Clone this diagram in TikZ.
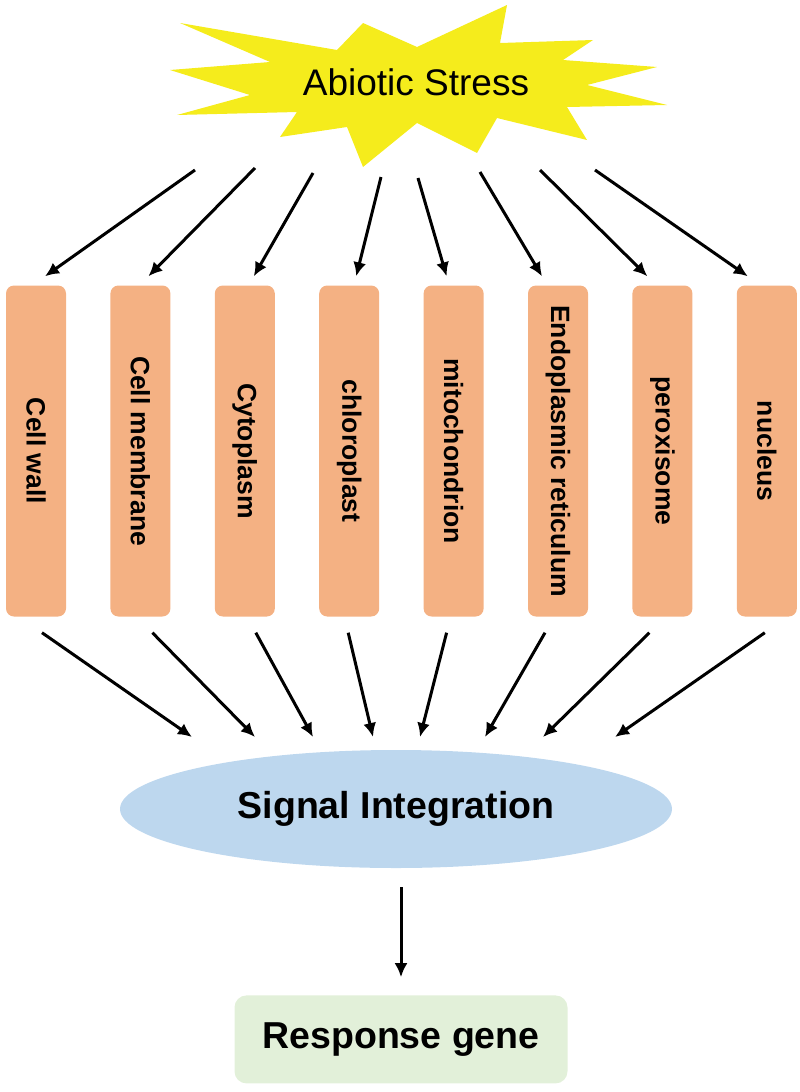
\documentclass[tikz,border=0pt]{standalone}
\usepackage{fontspec}
\setmainfont{Liberation Sans}
\usetikzlibrary{arrows.meta,shapes.geometric,positioning}
\definecolor{burstyellow}{RGB}{245,236,28}
\definecolor{organorange}{RGB}{244,177,131}
\definecolor{sigblue}{RGB}{189,215,238}
\definecolor{genegreen}{RGB}{226,240,217}
\tikzstyle{organelle} = [rectangle, fill=organorange, rounded corners=8pt,
    minimum width=60pt, minimum height=331pt, inner sep=0pt,
    font=\fontsize{26.5}{30}\selectfont\bfseries]
\tikzstyle{hub} = [ellipse, fill=sigblue, minimum width=552pt,
    minimum height=118pt, font=\fontsize{37.5}{42}\selectfont\bfseries]
\tikzstyle{result} = [rectangle, fill=genegreen, rounded corners=12pt,
    minimum width=333pt, minimum height=88pt, font=\fontsize{37.5}{42}\selectfont\bfseries]
\tikzstyle{line} = [draw, line width=3pt, -{Latex[length=14pt,width=13pt]}]

\begin{document}
\begin{tikzpicture}[x=1pt, y=-1pt, node distance=44pt, auto]
        \useasboundingbox (0,0) rectangle (800,1092);
        % Abiotic stress burst
        \fill [burstyellow] (180,23) -- (337,50) -- (363,23) -- (417,47) -- (507,5)
            -- (500,43) -- (593,40) -- (563,60) -- (657,67) -- (587,85) -- (667,105)
            -- (567,107) -- (587,140) -- (497,118) -- (477,153) -- (417,123)
            -- (363,167) -- (347,127) -- (280,137) -- (297,112) -- (177,115)
            -- (250,95) -- (170,70) -- (270,62) -- cycle;
        \node [font=\fontsize{37}{42}\selectfont] (stress) at (416,82) {Abiotic Stress};
        % Place organelles
        \node [organelle] (wall) at (36,451) {\rotatebox{-90}{Cell wall}};
        \node [organelle, right= of wall] (membrane) {\rotatebox{-90}{Cell membrane}};
        \node [organelle, right= of membrane] (cyto) {\rotatebox{-90}{Cytoplasm}};
        \node [organelle, right= of cyto] (chloro) {\rotatebox{-90}{chloroplast}};
        \node [organelle, right= of chloro] (mito) {\rotatebox{-90}{mitochondrion}};
        \node [organelle, right= of mito] (er) {\rotatebox{-90}{Endoplasmic reticulum}};
        \node [organelle, right= of er] (perox) {\rotatebox{-90}{peroxisome}};
        \node [organelle, right= of perox] (nucleus) {\rotatebox{-90}{nucleus}};
        % Signal integration and response
        \node [hub] (signal) at (396,809) {Signal Integration};
        \node [result, below=127pt of signal, xshift=5pt] (gene) {Response gene};
        % Arrow ends near the burst and the ellipse
        \coordinate (s1) at (195,170);
        \coordinate (s2) at (255,168);
        \coordinate (s3) at (313,173);
        \coordinate (s4) at (381,177);
        \coordinate (s5) at (418,178);
        \coordinate (s6) at (480,172);
        \coordinate (s7) at (540,170);
        \coordinate (s8) at (595,170);
        \coordinate (t1) at (192,737);
        \coordinate (t2) at (255,737);
        \coordinate (t3) at (313,737);
        \coordinate (t4) at (373,737);
        \coordinate (t5) at (420,737);
        \coordinate (t6) at (485,737);
        \coordinate (t7) at (543,737);
        \coordinate (t8) at (615,737);
        % Draw edges
        \path [line] (s1) -- ([shift={(9pt,9pt)}]wall.north);
        \path [line] (s2) -- ([shift={(8pt,9pt)}]membrane.north);
        \path [line] (s3) -- ([shift={(9pt,9pt)}]cyto.north);
        \path [line] (s4) -- ([shift={(7pt,9pt)}]chloro.north);
        \path [line] (s5) -- ([shift={(-7pt,9pt)}]mito.north);
        \path [line] (s6) -- ([shift={(-16pt,9pt)}]er.north);
        \path [line] (s7) -- ([shift={(-15pt,9pt)}]perox.north);
        \path [line] (s8) -- ([shift={(-19pt,9pt)}]nucleus.north);
        \path [line] ([shift={(6pt,-16pt)}]wall.south) -- (t1);
        \path [line] ([shift={(12pt,-16pt)}]membrane.south) -- (t2);
        \path [line] ([shift={(11pt,-16pt)}]cyto.south) -- (t3);
        \path [line] ([shift={(-1pt,-16pt)}]chloro.south) -- (t4);
        \path [line] ([shift={(-7pt,-16pt)}]mito.south) -- (t5);
        \path [line] ([shift={(-13pt,-16pt)}]er.south) -- (t6);
        \path [line] ([shift={(-13pt,-16pt)}]perox.south) -- (t7);
        \path [line] ([shift={(-2pt,-16pt)}]nucleus.south) -- (t8);
        \path [line, shorten <=19pt, shorten >=18pt] (gene.north |- signal.south) -- (gene.north);
    \end{tikzpicture}
\end{document}
